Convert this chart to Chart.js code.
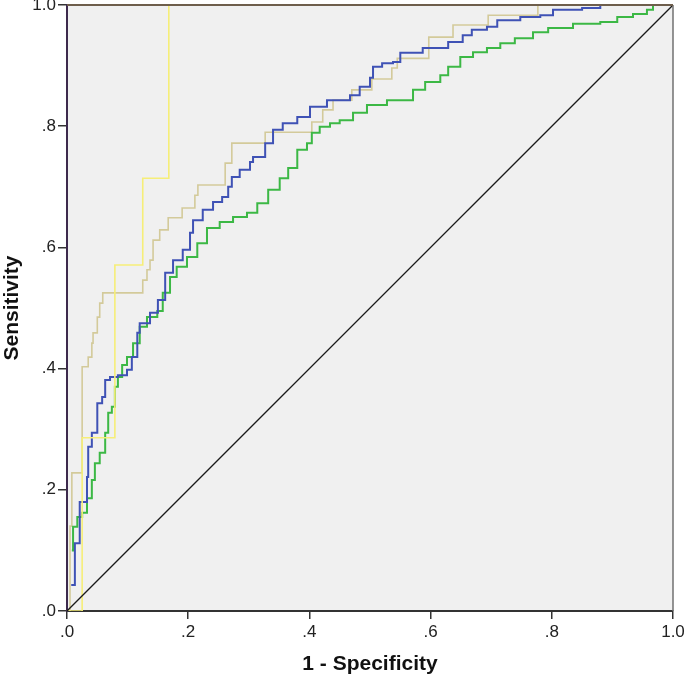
<!DOCTYPE html>
<html>
<head>
<meta charset="utf-8">
<script src="https://cdn.jsdelivr.net/npm/chart.js@4/dist/chart.umd.min.js"></script>
<style>
  html, body { margin: 0; padding: 0; background: #ffffff; }
  #wrap { width: 685px; height: 680px; }
</style>
</head>
<body>
<div id="wrap"><canvas id="roc" width="685" height="680"></canvas></div>
<script>
// ROC curves (x = 1 - specificity, y = sensitivity)

const tickLabels = ['.0', '.2', '.4', '.6', '.8', '1.0'];

const yellowFpr = [0, 0.025, 0.079, 0.125, 0.168, 1];
const yellowTpr = [0, 0.286, 0.571, 0.714, 1.0, 1];

const tanFpr = [0, 0.005, 0.008, 0.025, 0.035, 0.041, 0.043, 0.050, 0.054, 0.059, 0.125, 0.132, 0.137, 0.142,
    0.153, 0.167, 0.190, 0.211, 0.216, 0.261, 0.272, 0.327, 0.404, 0.422, 0.439, 0.470, 0.503, 0.536, 0.545,
    0.597, 0.637, 0.695, 0.777, 1];
const tanTpr = [0, 0.140, 0.228, 0.403, 0.419, 0.442, 0.459, 0.485, 0.508, 0.525, 0.546, 0.563, 0.579, 0.612,
    0.629, 0.649, 0.665, 0.686, 0.703, 0.739, 0.772, 0.790, 0.807, 0.827, 0.843, 0.860, 0.878, 0.896, 0.912,
    0.947, 0.967, 0.983, 1.0, 1];

const blueFpr = [0.007, 0.013, 0.021, 0.033, 0.035, 0.041, 0.050, 0.058, 0.063, 0.071, 0.084, 0.099, 0.107, 0.116,
    0.120, 0.137, 0.150, 0.162, 0.175, 0.191, 0.203, 0.208, 0.224, 0.241, 0.256, 0.266, 0.272, 0.285, 0.302,
    0.307, 0.327, 0.340, 0.356, 0.380, 0.401, 0.429, 0.467, 0.483, 0.500, 0.505, 0.520, 0.538, 0.550, 0.587,
    0.629, 0.653, 0.668, 0.693, 0.710, 0.748, 0.781, 0.802, 0.850, 0.880, 1];
const blueTpr = [0.043, 0.112, 0.180, 0.221, 0.271, 0.294, 0.343, 0.353, 0.381, 0.386, 0.389, 0.398, 0.419, 0.459,
    0.475, 0.492, 0.513, 0.558, 0.579, 0.596, 0.624, 0.645, 0.662, 0.675, 0.683, 0.700, 0.716, 0.728, 0.741,
    0.749, 0.772, 0.794, 0.805, 0.815, 0.832, 0.843, 0.851, 0.865, 0.880, 0.898, 0.904, 0.906, 0.921, 0.929,
    0.939, 0.950, 0.959, 0.964, 0.975, 0.980, 0.983, 0.992, 0.995, 1.0, 1];

const greenFpr = [0.008, 0.010, 0.017, 0.025, 0.033, 0.041, 0.046, 0.054, 0.063, 0.068, 0.074, 0.079, 0.084, 0.091,
    0.099, 0.109, 0.120, 0.132, 0.149, 0.158, 0.170, 0.181, 0.198, 0.215, 0.231, 0.252, 0.274, 0.297, 0.314,
    0.332, 0.351, 0.365, 0.380, 0.396, 0.404, 0.417, 0.434, 0.450, 0.472, 0.495, 0.528, 0.545, 0.571, 0.591,
    0.616, 0.629, 0.649, 0.670, 0.693, 0.715, 0.739, 0.769, 0.794, 0.835, 0.880, 0.908, 0.934, 0.957, 0.967, 1];
const greenTpr = [0.100, 0.139, 0.155, 0.162, 0.186, 0.216, 0.244, 0.261, 0.294, 0.327, 0.337, 0.370, 0.386, 0.406,
    0.419, 0.442, 0.469, 0.485, 0.495, 0.525, 0.551, 0.568, 0.584, 0.607, 0.632, 0.642, 0.650, 0.657, 0.673,
    0.695, 0.714, 0.731, 0.761, 0.772, 0.789, 0.799, 0.805, 0.810, 0.822, 0.835, 0.843, 0.843, 0.860, 0.873,
    0.884, 0.898, 0.914, 0.922, 0.929, 0.937, 0.945, 0.955, 0.962, 0.969, 0.972, 0.980, 0.985, 0.992, 1.0, 1];

const refFpr = [0, 1];
const refTpr = [0, 1];

function toPoints(xs, ys) {
    return xs.map((x, i) => ({ x: x, y: ys[i] }));
}

// plot background + frame
const plotFrame = {
    id: 'plotFrame',
    beforeDraw(chart) {
        const { ctx, chartArea: a } = chart;
        ctx.save();
        ctx.fillStyle = '#f0f0f0';
        ctx.fillRect(a.left, a.top, a.right - a.left, a.bottom - a.top);
        ctx.restore();
    },
    afterDatasetsDraw(chart) {
        const { ctx, chartArea: a } = chart;
        ctx.save();
        ctx.lineWidth = 1.5;
        ctx.strokeStyle = '#707070';
        ctx.beginPath();
        ctx.moveTo(a.right, a.top);
        ctx.lineTo(a.right, a.bottom);
        ctx.stroke();
        ctx.lineWidth = 2;
        ctx.strokeStyle = '#6e5e4c';
        ctx.beginPath();
        ctx.moveTo(a.left, a.top);
        ctx.lineTo(a.right, a.top);
        ctx.stroke();
        ctx.restore();
    }
};

const ctx = document.getElementById('roc').getContext('2d');
const rocChart = new Chart(ctx, {
    type: 'line',
    data: {
        datasets: [
            { label: 'Reference', data: toPoints(refFpr, refTpr), borderColor: '#1a1a1a', borderWidth: 1.3 },
            { label: 'Yellow', data: toPoints(yellowFpr, yellowTpr), borderColor: '#f6ee78', borderWidth: 1.6, stepped: true },
            { label: 'Blue', data: toPoints(blueFpr, blueTpr), borderColor: '#3f52b5', borderWidth: 2, stepped: true },
            { label: 'Green', data: toPoints(greenFpr, greenTpr), borderColor: '#3cb845', borderWidth: 2, stepped: true },
            { label: 'Tan', data: toPoints(tanFpr, tanTpr), borderColor: '#d3ca9a', borderWidth: 1.6, stepped: true }
        ]
    },
    options: {
        responsive: false,
        animation: false,
        layout: { padding: 0 },
        elements: { point: { radius: 0 }, line: { tension: 0, fill: false } },
        plugins: { legend: { display: false }, tooltip: { enabled: false } },
        scales: {
            x: {
                type: 'linear', min: 0, max: 1,
                afterFit: (s) => { s.height = 69; s.paddingLeft = 0; s.paddingRight = 12; },
                border: { color: '#333333', width: 2 },
                grid: { drawOnChartArea: false, color: '#333333', tickLength: 8, lineWidth: 1.5 },
                ticks: {
                    stepSize: 0.2, padding: 8, color: '#222222', maxRotation: 0,
                    font: { family: "'Liberation Sans', Arial, sans-serif", size: 17, lineHeight: 0.6 },
                    callback: (v, i) => tickLabels[i]
                },
                title: {
                    display: true, text: '1 - Specificity', color: '#111111',
                    font: { family: "'Liberation Sans', Arial, sans-serif", size: 21, weight: 'bold' },
                    padding: { top: 0, bottom: 3 }
                }
            },
            y: {
                type: 'linear', min: 0, max: 1,
                afterFit: (s) => { s.width = 67; s.paddingTop = 5; s.paddingBottom = 0; },
                border: { color: '#3d2a4d', width: 2 },
                grid: { drawOnChartArea: false, color: '#333333', tickLength: 9, lineWidth: 1.5 },
                ticks: {
                    stepSize: 0.2, padding: 2, color: '#222222',
                    font: { family: "'Liberation Sans', Arial, sans-serif", size: 17, lineHeight: 0.6 },
                    callback: (v, i) => tickLabels[i]
                },
                title: {
                    display: true, text: 'Sensitivity', color: '#111111',
                    font: { family: "'Liberation Sans', Arial, sans-serif", size: 21, weight: 'bold' },
                    padding: { top: 0, bottom: 0 }
                }
            }
        }
    },
    plugins: [plotFrame]
});
</script>
</body>
</html>
